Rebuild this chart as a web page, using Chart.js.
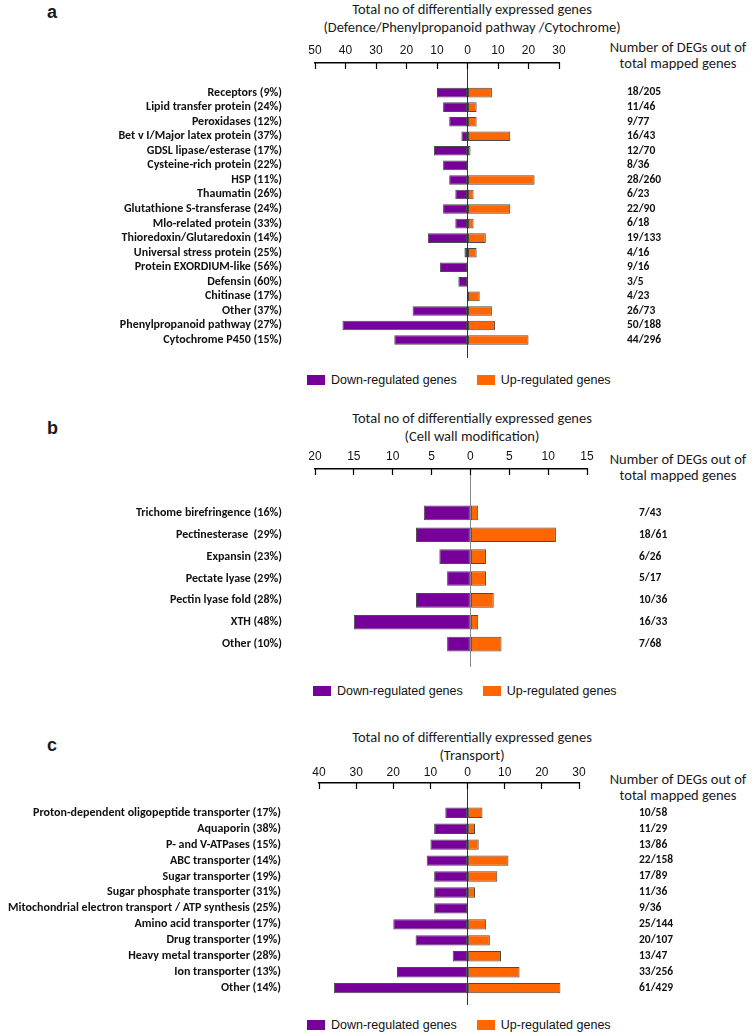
<!DOCTYPE html>
<html>
<head>
<meta charset="utf-8">
<script src="https://cdn.jsdelivr.net/npm/chart.js@4.4.0/dist/chart.umd.min.js"></script>
<style>
  body { margin: 0; background: #fff; }
  #wrap { position: relative; width: 754px; height: 1036px; overflow: hidden; font-family: Carlito, Lato, sans-serif; color: #1a1a1a; }
  canvas { position: absolute; left: 0; }
  .letter { position: absolute; left: 47px; font: bold 18px 'Liberation Sans', Arial, sans-serif; line-height: 20px; }
  .title { position: absolute; left: 322px; width: 300px; text-align: center; font-size: 14.5px; line-height: 18px; }
  .hdr { position: absolute; left: 598px; width: 160px; text-align: center; font-size: 14.5px; line-height: 16px; }
  .legend { position: absolute; display: flex; align-items: center; font: 12.5px 'Liberation Sans', Arial, sans-serif; color: #111; }
  .legend .box { width: 18px; height: 10px; margin-right: 6px; }
</style>
</head>
<body>
<div id="wrap">
  <div class="letter" style="top:2px">a</div>
  <div class="title" style="top:0px">Total no of differentially expressed genes<br>(Defence/Phenylpropanoid pathway /Cytochrome)</div>
  <div class="hdr" style="top:39px">Number of DEGs out of<br>total mapped genes</div>
  <canvas id="chartA" width="754" height="335" style="top:30px"></canvas>
  <div class="legend" style="left:307px; top:373px">
    <span class="box" style="background:#760099"></span><span>Down-regulated genes</span>
    <span class="box" style="background:#ff6600; margin-left:20px"></span><span>Up-regulated genes</span>
  </div>

  <div class="letter" style="top:418px">b</div>
  <div class="title" style="top:409px">Total no of differentially expressed genes<br>(Cell wall modification)</div>
  <div class="hdr" style="top:451px">Number of DEGs out of<br>total mapped genes</div>
  <canvas id="chartB" width="754" height="242" style="top:430px"></canvas>
  <div class="legend" style="left:313px; top:684px">
    <span class="box" style="background:#760099"></span><span>Down-regulated genes</span>
    <span class="box" style="background:#ff6600; margin-left:20px"></span><span>Up-regulated genes</span>
  </div>

  <div class="letter" style="top:735px">c</div>
  <div class="title" style="top:728px">Total no of differentially expressed genes<br>(Transport)</div>
  <div class="hdr" style="top:771px">Number of DEGs out of<br>total mapped genes</div>
  <canvas id="chartC" width="754" height="260" style="top:750px"></canvas>
  <div class="legend" style="left:307px; top:1018px">
    <span class="box" style="background:#760099"></span><span>Down-regulated genes</span>
    <span class="box" style="background:#ff6600; margin-left:20px"></span><span>Up-regulated genes</span>
  </div>
</div>

<script>
// ====== a. Defence / Phenylpropanoid pathway / Cytochrome ======
const catsA = ['Receptors (9%)', 'Lipid transfer protein (24%)', 'Peroxidases (12%)', 'Bet v I/Major latex protein (37%)',
  'GDSL lipase/esterase (17%)', 'Cysteine-rich protein (22%)', 'HSP (11%)', 'Thaumatin (26%)',
  'Glutathione S-transferase (24%)', 'Mlo-related protein (33%)', 'Thioredoxin/Glutaredoxin (14%)',
  'Universal stress protein (25%)', 'Protein EXORDIUM-like (56%)', 'Defensin (60%)', 'Chitinase (17%)',
  'Other (37%)', 'Phenylpropanoid pathway (27%)', 'Cytochrome P450 (15%)'];
const downA = [10, 8, 6, 2, 11, 8, 6, 4, 8, 4, 13, 1, 9, 3, 0, 18, 41, 24];
const upA = [8, 3, 3, 14, 1, 0, 22, 2, 14, 2, 6, 3, 0, 0, 4, 8, 9, 20];
const ratiosA = ['18/205', '11/46', '9/77', '16/43', '12/70', '8/36', '28/260', '6/23', '22/90', '6/18',
  '19/133', '4/16', '9/16', '3/5', '4/23', '26/73', '50/188', '44/296'];

// ====== b. Cell wall modification ======
const catsB = ['Trichome birefringence (16%)', 'Pectinesterase  (29%)', 'Expansin (23%)', 'Pectate lyase (29%)',
  'Pectin lyase fold (28%)', 'XTH (48%)', 'Other (10%)'];
const downB = [6, 7, 4, 3, 7, 15, 3];
const upB = [1, 11, 2, 2, 3, 1, 4];
const ratiosB = ['7/43', '18/61', '6/26', '5/17', '10/36', '16/33', '7/68'];

// ====== c. Transport ======
const catsC = ['Proton-dependent oligopeptide transporter (17%)', 'Aquaporin (38%)', 'P- and V-ATPases (15%)',
  'ABC transporter (14%)', 'Sugar transporter (19%)', 'Sugar phosphate transporter (31%)',
  'Mitochondrial electron transport / ATP synthesis (25%)', 'Amino acid transporter (17%)',
  'Drug transporter (19%)', 'Heavy metal transporter (28%)', 'Ion transporter (13%)', 'Other (14%)'];
const downC = [6, 9, 10, 11, 9, 9, 9, 20, 14, 4, 19, 36];
const upC = [4, 2, 3, 11, 8, 2, 0, 5, 6, 9, 14, 25];
const ratiosC = ['10/58', '11/29', '13/86', '22/158', '17/89', '11/36', '9/36', '25/144', '20/107',
  '13/47', '33/256', '61/429'];

const PURPLE = '#760099';
const ORANGE = '#ff6600';

// fixed box width, and no extra top/bottom padding from tick padding
const fixWidth = (w) => (s) => { s.width = w; s.paddingTop = 0; s.paddingBottom = 0; };

function makeChart(id, p) {
  const toPoints = (arr, sign) => arr.map((v, i) => ({ x: sign * v, y: i }));
  return new Chart(document.getElementById(id).getContext('2d'), {
    type: 'bar',
    data: {
      datasets: [
        { label: 'Down-regulated genes', data: toPoints(p.down, -1), backgroundColor: PURPLE,
          borderColor: '#4a4a4a', borderWidth: 1, borderSkipped: false, barPercentage: p.bar, categoryPercentage: 1 },
        { label: 'Up-regulated genes', data: toPoints(p.up, 1), backgroundColor: ORANGE,
          borderColor: '#4a4a4a', borderWidth: 1, borderSkipped: false, barPercentage: p.bar, categoryPercentage: 1 }
      ]
    },
    options: {
      indexAxis: 'y',
      responsive: false,
      animation: false,
      layout: { padding: { top: 0, bottom: p.padBottom, left: 0, right: 0 } },
      plugins: { legend: { display: false }, tooltip: { enabled: false } },
      scales: {
        x: {
          type: 'linear', position: 'top', stacked: true,
          min: p.xMin, max: p.xMax,
          afterFit: (s) => { s.height = p.axisH; },
          border: { display: true, color: '#000', width: 1.5 },
          grid: {
            drawOnChartArea: true, drawTicks: true, tickLength: -6, tickColor: '#000', tickWidth: 1.2,
            color: (ctx) => ctx.tick && ctx.tick.value === 0 ? p.zeroColor : 'rgba(0,0,0,0)'
          },
          ticks: {
            stepSize: p.step, padding: p.tickPad, maxRotation: 0, autoSkip: false, color: '#111',
            font: { family: 'Liberation Sans', size: 12 },
            callback: (v) => Math.abs(v)
          }
        },
        y: {
          type: 'linear', position: 'left', reverse: true, stacked: true,
          min: p.yMin, max: p.yMax,
          afterFit: fixWidth(p.left),
          border: { display: false },
          grid: { display: false, drawTicks: false },
          ticks: {
            stepSize: 1, includeBounds: false, autoSkip: false, padding: p.labelPad, color: '#111',
            font: { family: 'Carlito', size: 12, weight: 'bold' },
            callback: (v) => p.cats[v] !== undefined ? p.cats[v] : ''
          }
        },
        y2: {
          type: 'linear', position: 'right', reverse: true,
          min: p.yMin, max: p.yMax,
          afterFit: fixWidth(754 - p.right),
          border: { display: false },
          grid: { display: false, drawTicks: false },
          ticks: {
            stepSize: 1, includeBounds: false, autoSkip: false, padding: p.ratioX - p.right, color: '#111',
            font: { family: 'Carlito', size: 11.5, weight: 'bold' },
            callback: (v) => p.ratios[v] !== undefined ? p.ratios[v] : ''
          }
        }
      }
    }
  });
}

makeChart('chartA', {
  cats: catsA, down: downA, up: upA, ratios: ratiosA,
  xMin: -50, xMax: 30, step: 10, yMin: -1.5, yMax: 17.7,
  left: 315, right: 559, ratioX: 627, labelPad: 33, axisH: 33, tickPad: 11,
  padBottom: 7, bar: 0.66, zeroColor: '#333'
});

makeChart('chartB', {
  cats: catsB, down: downB, up: upB, ratios: ratiosB,
  xMin: -20, xMax: 15, step: 5, yMin: -1.44, yMax: 6.48,
  left: 315, right: 587, ratioX: 639, labelPad: 33, axisH: 39, tickPad: 11,
  padBottom: 5, bar: 0.67, zeroColor: '#888'
});

makeChart('chartC', {
  cats: catsC, down: downC, up: upC, ratios: ratiosC,
  xMin: -40, xMax: 30, step: 10, yMin: -1.33, yMax: 11.52,
  left: 319, right: 579, ratioX: 639, labelPad: 38, axisH: 33, tickPad: 9,
  padBottom: 5, bar: 0.65, zeroColor: '#333'
});
</script>
</body>
</html>
